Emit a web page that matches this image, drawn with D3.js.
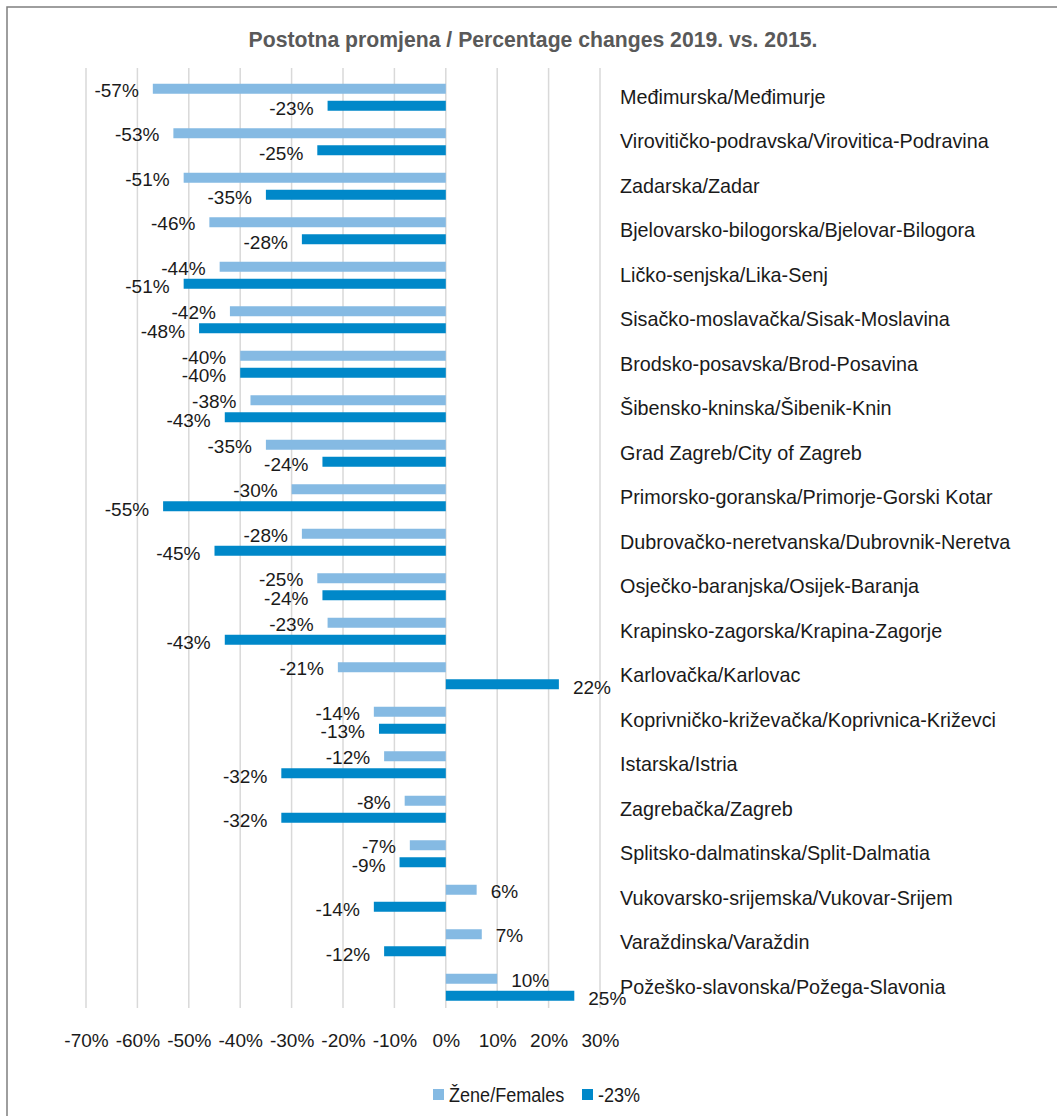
<!DOCTYPE html>
<html>
<head>
<meta charset="utf-8">
<script src="https://cdn.jsdelivr.net/npm/d3@7"></script>
<style>
  html, body { margin: 0; padding: 0; background: #fff; }
  svg text { font-family: "Liberation Sans", Arial, Helvetica, sans-serif; fill: #1a1a1a; }
</style>
</head>
<body>
<svg id="chart" width="1057" height="1116"></svg>
<script>
"use strict";

var title = "Postotna promjena / Percentage changes 2019. vs. 2015.";

var counties = [
  "Međimurska/Međimurje",
  "Virovitičko-podravska/Virovitica-Podravina",
  "Zadarska/Zadar",
  "Bjelovarsko-bilogorska/Bjelovar-Bilogora",
  "Ličko-senjska/Lika-Senj",
  "Sisačko-moslavačka/Sisak-Moslavina",
  "Brodsko-posavska/Brod-Posavina",
  "Šibensko-kninska/Šibenik-Knin",
  "Grad Zagreb/City of Zagreb",
  "Primorsko-goranska/Primorje-Gorski Kotar",
  "Dubrovačko-neretvanska/Dubrovnik-Neretva",
  "Osječko-baranjska/Osijek-Baranja",
  "Krapinsko-zagorska/Krapina-Zagorje",
  "Karlovačka/Karlovac",
  "Koprivničko-križevačka/Koprivnica-Križevci",
  "Istarska/Istria",
  "Zagrebačka/Zagreb",
  "Splitsko-dalmatinska/Split-Dalmatia",
  "Vukovarsko-srijemska/Vukovar-Srijem",
  "Varaždinska/Varaždin",
  "Požeško-slavonska/Požega-Slavonia"
];

var seriesNames = ["Žene/Females", "-23%"];

var females = [-57, -53, -51, -46, -44, -42, -40, -38, -35, -30, -28, -25, -23, -21, -14, -12, -8, -7, 6, 7, 10];
var second = [-23, -25, -35, -28, -51, -48, -40, -43, -24, -55, -45, -24, -43, 22, -13, -32, -32, -9, -14, -12, 25];

var xTicks = [-70, -60, -50, -40, -30, -20, -10, 0, 10, 20, 30];

var colors = ["#85bae3", "#0088c9"];

var svg = d3.select("#chart");

// frame
svg.append("rect")
  .attr("x", 7)
  .attr("y", 7)
  .attr("width", 1070)
  .attr("height", 1130)
  .attr("fill", "none")
  .attr("stroke", "#7f7f7f")
  .attr("stroke-width", 1.5);

svg.append("text")
  .attr("x", 533)
  .attr("y", 47)
  .attr("text-anchor", "middle")
  .style("font-size", "21.2px")
  .style("font-weight", "bold")
  .style("fill", "#595959")
  .text(title);

var x = d3.scaleLinear()
  .domain([-70, 30])
  .range([86, 600]);

var y = d3.scaleBand()
  .domain(counties)
  .range([75, 75 + 44.5 * counties.length])
  .padding(0);

var ySub = d3.scaleBand()
  .domain([0, 1])
  .range([y.bandwidth() / 2 - 13.5, y.bandwidth() / 2 + 13.5])
  .paddingInner(0.412);

// gridlines
svg.append("g")
  .classed("grid", true)
  .selectAll("line")
  .data(xTicks)
  .enter()
  .append("line")
  .attr("x1", function(d) { return x(d); })
  .attr("x2", function(d) { return x(d); })
  .attr("y1", 68)
  .attr("y2", 1008)
  .attr("stroke", "#d9d9d9")
  .attr("stroke-width", 1.5);

// x axis labels, the axis line and ticks are hidden
var xAxis = d3.axisBottom(x)
  .tickValues(xTicks)
  .tickSize(0)
  .tickPadding(0)
  .tickFormat(function(d) { return d + "%"; });

var gx = svg.append("g")
  .attr("transform", "translate(0,1033)")
  .call(xAxis);
gx.select(".domain").remove();
gx.selectAll("text")
  .attr("dy", 0)
  .attr("y", 14)
  .style("font-size", "19px")
  .style("font-family", "\"Liberation Sans\", Arial, sans-serif")
  .style("fill", "#1a1a1a");

var rows = counties.map(function(name, i) {
  return { name: name, values: [females[i], second[i]] };
});

var gRows = svg.selectAll("g.row")
  .data(rows)
  .enter()
  .append("g")
  .classed("row", true)
  .attr("transform", function(r) { return "translate(0," + y(r.name) + ")"; });

var bars = gRows.selectAll("g.bar")
  .data(function(r) {
    return r.values.map(function(v, k) { return { v: v, k: k }; });
  })
  .enter()
  .append("g")
  .classed("bar", true);

bars.append("rect")
  .attr("x", function(d) { return Math.min(x(0), x(d.v)); })
  .attr("y", function(d) { return ySub(d.k); })
  .attr("width", function(d) { return Math.abs(x(d.v) - x(0)); })
  .attr("height", ySub.bandwidth())
  .attr("fill", function(d) { return colors[d.k]; });

// labels of the two bars sit a bit apart, as in the original
bars.append("text")
  .attr("x", function(d) { return d.v < 0 ? x(d.v) - 14 : x(d.v) + 14; })
  .attr("y", function(d) { return ySub(d.k) + ySub.bandwidth() / 2 + (d.k ? 9.5 : 8); })
  .attr("text-anchor", function(d) { return d.v < 0 ? "end" : "start"; })
  .style("font-size", "19px")
  .text(function(d) { return d.v + "%"; });

gRows.append("text")
  .attr("x", 620)
  .attr("y", y.bandwidth() / 2 + 6.5)
  .style("font-size", "19.8px")
  .text(function(r) { return r.name; });

// legend, narrow lettering
var legendX = [433, 582];
var legend = svg.selectAll("g.legend")
  .data(seriesNames)
  .enter()
  .append("g")
  .classed("legend", true)
  .attr("transform", function(d, i) { return "translate(" + legendX[i] + ",1089)"; });

legend.append("rect")
  .attr("width", 11)
  .attr("height", 11)
  .attr("fill", function(d, i) { return colors[i]; });

legend.append("text")
  .attr("transform", "translate(16,12.5) scale(0.86,1)")
  .style("font-size", "21px")
  .text(function(d) { return d; });
</script>
</body>
</html>
